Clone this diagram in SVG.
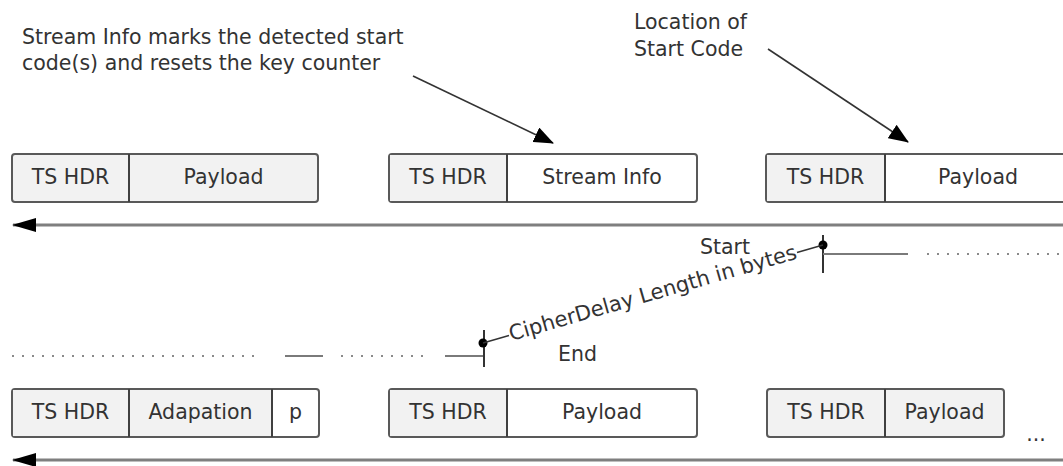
<svg xmlns="http://www.w3.org/2000/svg" width="1063" height="466" viewBox="0 0 1063 466">
  <style>
    text { font-family: "DejaVu Sans", Verdana, sans-serif; font-size: 20.5px; fill: #333; }
    .c { text-anchor: middle; }
    .box { stroke: #595959; stroke-width: 2; }
    .g { fill: #f2f2f2; }
    .w { fill: #ffffff; }
    .div { stroke: #404040; stroke-width: 2; }
    .axis { stroke: #7f7f7f; stroke-width: 3; fill: none; }
    .ann { stroke: #333; stroke-width: 1.6; fill: none; }
    .solid { stroke: #7a7a7a; stroke-width: 2; fill: none; }
    .dot { stroke: #8a8a8a; stroke-width: 2; stroke-dasharray: 2 8; fill: none; }
    .tick { stroke: #333; stroke-width: 2; fill: none; }
    .thin { stroke: #333; stroke-width: 1.4; fill: none; }
  </style>
  <defs>
    <marker id="ah" markerUnits="userSpaceOnUse" viewBox="0 0 20 16" refX="19" refY="8" markerWidth="20" markerHeight="16" orient="auto">
      <path d="M0,0 L20,8 L0,16 z" fill="#000"/>
    </marker>
    <marker id="big" markerUnits="userSpaceOnUse" viewBox="0 0 24 14" refX="23" refY="7" markerWidth="24" markerHeight="14" orient="auto">
      <path d="M0,0 L24,7 L0,14 z" fill="#000"/>
    </marker>
  </defs>

  <!-- annotations -->
  <g id="note-stream-info">
    <text x="22" y="44">Stream Info marks the detected start</text>
    <text x="22" y="70">code(s) and resets the key counter</text>
  </g>
  <g id="note-location">
    <text x="634" y="29">Location of</text>
    <text x="634" y="56">Start Code</text>
  </g>

  <!-- top row packets -->
  <g id="pkt-top-1">
    <rect class="box g" x="12" y="154" width="306" height="48" rx="3"/>
    <line class="div" x1="129" y1="154" x2="129" y2="202"/>
    <text class="c" x="70.5" y="184">TS HDR</text>
    <text class="c" x="223.5" y="184">Payload</text>
  </g>
  <g id="pkt-top-2">
    <rect class="box w" x="389" y="154" width="308" height="48" rx="3"/>
    <rect class="g" x="390" y="155" width="117" height="46"/>
    <line class="div" x1="507" y1="154" x2="507" y2="202"/>
    <text class="c" x="448" y="184">TS HDR</text>
    <text class="c" x="602" y="184">Stream Info</text>
  </g>
  <g id="pkt-top-3">
    <rect class="box w" x="766" y="154" width="310" height="48" rx="3"/>
    <rect class="g" x="767" y="155" width="118" height="46"/>
    <line class="div" x1="885" y1="154" x2="885" y2="202"/>
    <text class="c" x="825.5" y="184">TS HDR</text>
    <text class="c" x="978" y="184">Payload</text>
  </g>

  <!-- bottom row packets -->
  <g id="pkt-bot-1">
    <rect class="box w" x="12" y="389" width="307" height="48" rx="3"/>
    <rect class="g" x="13" y="390" width="259" height="46"/>
    <line class="div" x1="129" y1="389" x2="129" y2="437"/>
    <line class="div" x1="272" y1="389" x2="272" y2="437"/>
    <text class="c" x="70.5" y="419">TS HDR</text>
    <text class="c" x="200.5" y="419">Adapation</text>
    <text class="c" x="295.5" y="419">p</text>
  </g>
  <g id="pkt-bot-2">
    <rect class="box w" x="389" y="389" width="308" height="48" rx="3"/>
    <rect class="g" x="390" y="390" width="117" height="46"/>
    <line class="div" x1="507" y1="389" x2="507" y2="437"/>
    <text class="c" x="448" y="419">TS HDR</text>
    <text class="c" x="602" y="419">Payload</text>
  </g>
  <g id="pkt-bot-3">
    <rect class="box g" x="767" y="389" width="237" height="48" rx="3"/>
    <line class="div" x1="885" y1="389" x2="885" y2="437"/>
    <text class="c" x="826" y="419">TS HDR</text>
    <text class="c" x="944.5" y="419">Payload</text>
  </g>
  <g id="ellipsis">
    <text class="c" x="1036" y="441">...</text>
  </g>

  <!-- timing markers -->
  <g id="marker-start">
    <line class="tick" x1="823" y1="235" x2="823" y2="273"/>
    <line class="solid" x1="823" y1="254" x2="908" y2="254"/>
    <line class="dot" x1="927" y1="254" x2="1063" y2="254"/>
    <circle cx="823" cy="245" r="4.5" fill="#000"/>
    <text x="700" y="254">Start</text>
  </g>
  <g id="marker-end">
    <line class="dot" x1="12" y1="356" x2="262" y2="356"/>
    <line class="solid" x1="285" y1="356" x2="323" y2="356"/>
    <line class="dot" x1="341" y1="356" x2="425" y2="356"/>
    <line class="solid" x1="445" y1="356" x2="484" y2="356"/>
    <line class="tick" x1="484" y1="330" x2="484" y2="367"/>
    <circle cx="483" cy="343" r="4.5" fill="#000"/>
    <text x="558" y="361">End</text>
  </g>
  <g id="cipher-delay">
    <line class="thin" x1="483" y1="343" x2="509" y2="335.5"/>
    <line class="thin" x1="823" y1="245" x2="797" y2="252.5"/>
    <text class="c" style="font-size:21px" transform="translate(653,294) rotate(-16.08)" x="0" y="6">CipherDelay Length in bytes</text>
  </g>

  <!-- connectors -->
  <g id="connectors">
    <line class="ann" x1="413" y1="76" x2="553" y2="143" marker-end="url(#ah)"/>
    <line class="ann" x1="768" y1="49" x2="908" y2="142" marker-end="url(#ah)"/>
    <line class="axis" x1="1070" y1="225" x2="13" y2="225" marker-end="url(#big)"/>
    <line class="axis" x1="1070" y1="460" x2="13" y2="460" marker-end="url(#big)"/>
  </g>
</svg>
